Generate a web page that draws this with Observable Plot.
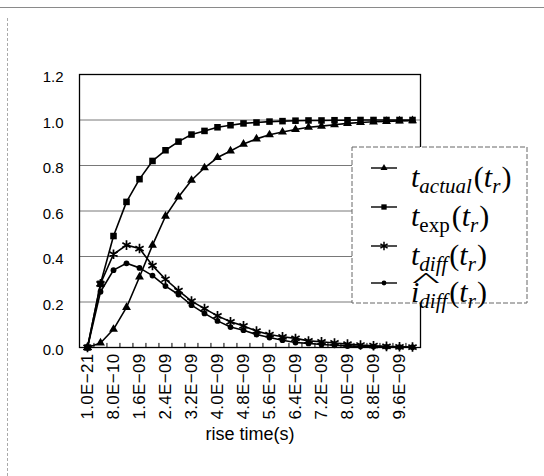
<!DOCTYPE html>
<html>
<head>
<meta charset="utf-8">
<script src="https://cdn.jsdelivr.net/npm/d3@7"></script>
<script src="https://cdn.jsdelivr.net/npm/@observablehq/plot@0.6"></script>
<style>
  html, body { margin: 0; padding: 0; background: #fff; }
  #wrap { position: relative; width: 544px; height: 476px; overflow: hidden; background: #fff; }
  #wrap > svg { position: absolute; left: 0; top: 0; }
  .topline { position: absolute; left: 0; top: 7px; width: 544px; height: 0; border-top: 1px solid #8a8a8a; }
  .leftline { position: absolute; left: 7px; top: 18px; width: 0; height: 458px; border-left: 1px dashed #aaa; }
</style>
</head>
<body>
<div id="wrap">
  <div class="topline"></div>
  <div class="leftline"></div>
</div>
<script>
// ---- data ----
const riseTime = [1e-21, 4e-10, 8e-10, 1.2e-9, 1.6e-9, 2.0e-9, 2.4e-9, 2.8e-9, 3.2e-9, 3.6e-9,
  4.0e-9, 4.4e-9, 4.8e-9, 5.2e-9, 5.6e-9, 6.0e-9, 6.4e-9, 6.8e-9, 7.2e-9, 7.6e-9,
  8.0e-9, 8.4e-9, 8.8e-9, 9.2e-9, 9.6e-9, 1.0e-8];
const tickValues = [1e-21, 8e-10, 1.6e-9, 2.4e-9, 3.2e-9, 4.0e-9, 4.8e-9, 5.6e-9, 6.4e-9, 7.2e-9, 8.0e-9, 8.8e-9, 9.6e-9];
const tickLabels = ["1.0E-21", "8.0E-10", "1.6E-09", "2.4E-09", "3.2E-09", "4.0E-09", "4.8E-09",
  "5.6E-09", "6.4E-09", "7.2E-09", "8.0E-09", "8.8E-09", "9.6E-09"];
const yTicks = [0, 0.2, 0.4, 0.6, 0.8, 1.0, 1.2];
const gridValues = [0.2, 0.4, 0.6, 0.8, 1.0];

const tActual = [0, 0.02, 0.08, 0.176, 0.31, 0.45, 0.577, 0.662, 0.735, 0.79, 0.835, 0.864, 0.894,
  0.917, 0.935, 0.947, 0.958, 0.968, 0.973, 0.979, 0.985, 0.989, 0.992, 0.994, 0.996, 0.997];
const tExp = [0, 0.28, 0.49, 0.64, 0.74, 0.82, 0.867, 0.905, 0.936, 0.952, 0.968, 0.977, 0.985,
  0.989, 0.993, 0.995, 0.997, 0.998, 0.998, 0.999, 0.999, 1.0, 1.0, 1.0, 1.0, 1.0];
const tDiff = [0, 0.28, 0.41, 0.45, 0.435, 0.36, 0.30, 0.25, 0.204, 0.171, 0.139, 0.113, 0.095,
  0.072, 0.057, 0.047, 0.04, 0.029, 0.025, 0.02, 0.015, 0.011, 0.008, 0.005, 0.003, 0.002];
const iDiffHat = [0, 0.245, 0.34, 0.37, 0.35, 0.316, 0.27, 0.233, 0.186, 0.15, 0.117, 0.09, 0.076,
  0.057, 0.044, 0.032, 0.022, 0.018, 0.013, 0.01, 0.007, 0.005, 0.004, 0.003, 0.002, 0.001];

const seriesNames = ["t_actual", "t_exp", "t_diff", "i_diff_hat"];
const seriesValues = [tActual, tExp, tDiff, iDiffHat];
const seriesSymbols = ["triangle", "square", "asterisk", "circle"];
const seriesR = [3.3, 3.7, 4.5, 2.9];

// ---- build table ----
const rows = [];
seriesNames.forEach((name, s) => {
  riseTime.forEach((t, i) => rows.push({series: name, t, v: seriesValues[s][i]}));
});
const labelOf = new Map(tickValues.map((v, i) => [v, tickLabels[i]]));

const W = 544, H = 476, ML = 79, MR = 124, MT = 74, MB = 129;
const step = (W - ML - MR) / riseTime.length;

const marks = [
  Plot.ruleY(gridValues, {stroke: "#555", strokeWidth: 0.8}),
  // category-boundary tick marks (Excel style, pointing inward)
  Plot.ruleX(riseTime.slice(1), {x: d => d, y1: 0, y2: 0.018, dx: -step / 2, stroke: "#000", strokeWidth: 1}),
  Plot.frame({stroke: "#000", strokeWidth: 1.3}),
  Plot.axisY({ticks: yTicks, tickSize: 0, tickPadding: 16, dy: 3, tickFormat: d => d.toFixed(1), label: null, fontSize: 15}),
  Plot.axisX({ticks: riseTime, tickSize: 0, tickPadding: 6, tickRotate: -90, label: null, fontSize: 17,
    tickFormat: d => (labelOf.has(d) ? labelOf.get(d).replace("-", "\u2212") : "")}),
  Plot.text(["rise time(s)"], {text: d => d, frameAnchor: "bottom", dy: 92, fontSize: 18})
];
seriesNames.forEach((name, s) => {
  const data = rows.filter(r => r.series === name);
  marks.push(Plot.line(data, {x: "t", y: "v", stroke: "#000", strokeWidth: 1.6}));
  if (seriesSymbols[s] === "asterisk") {
    marks.push(Plot.dot(data, {x: "t", y: "v", symbol: "asterisk", r: seriesR[s], stroke: "#000", strokeWidth: 1.7}));
  } else {
    marks.push(Plot.dot(data, {x: "t", y: "v", symbol: seriesSymbols[s], r: seriesR[s], fill: "#000", stroke: "none"}));
  }
});

const chart = Plot.plot({
  width: W, height: H,
  marginLeft: ML, marginRight: MR, marginTop: MT, marginBottom: MB,
  style: {fontFamily: "'Liberation Sans', Arial, sans-serif", fontSize: "15px", background: "transparent", color: "#000"},
  x: {type: "point", domain: riseTime, padding: 0.5},
  y: {domain: [0, 1.2]},
  marks
});
d3.select(chart).selectAll('g[aria-label="x-axis tick label"] text').attr("letter-spacing", 0.3);
document.getElementById("wrap").appendChild(chart);

// ---- legend overlay ----
const lg = d3.select("#wrap").append("svg")
  .attr("width", W).attr("height", H)
  .style("position", "absolute").style("left", 0).style("top", 0);
lg.append("rect").attr("x", 352).attr("y", 147).attr("width", 175).attr("height", 156)
  .attr("fill", "#fff").attr("stroke", "#666").attr("stroke-width", 1).attr("stroke-dasharray", "5,2");
const legendRows = [
  {sym: "triangle", r: 2.6, y: 168, base: 187, sub: "actual", subRoman: false},
  {sym: "square", r: 3.0, y: 207, base: 226, sub: "exp", subRoman: true},
  {sym: "asterisk", r: 3.9, y: 246, base: 265, sub: "diff", subRoman: false},
  {sym: "circle", r: 2.4, y: 283, base: 302, sub: "diff", subRoman: false}
];
const symMap = {triangle: d3.symbolTriangle, square: d3.symbolSquare, asterisk: d3.symbolAsterisk, circle: d3.symbolCircle};
legendRows.forEach((row, k) => {
  lg.append("line").attr("x1", 371).attr("x2", 397).attr("y1", row.y).attr("y2", row.y)
    .attr("stroke", "#000").attr("stroke-width", 1.4);
  const p = lg.append("path").attr("transform", `translate(384,${row.y})`)
    .attr("d", d3.symbol(symMap[row.sym], row.r * row.r * Math.PI)());
  if (row.sym === "asterisk") p.attr("fill", "none").attr("stroke", "#000").attr("stroke-width", 1.5);
  else p.attr("fill", "#000");
  const t = lg.append("text").attr("x", 411).attr("y", row.base)
    .attr("font-family", "'Liberation Serif', 'DejaVu Serif', serif").attr("font-size", 30).attr("fill", "#000");
  t.append("tspan").attr("font-style", "italic").text(k === 3 ? "i" : "t");
  t.append("tspan").attr("font-size", 21).attr("dy", 6).attr("font-style", row.subRoman ? "normal" : "italic").text(row.sub);
  t.append("tspan").attr("dy", -6).attr("dx", 2).attr("font-style", "normal").text("(");
  t.append("tspan").attr("font-style", "italic").text("t");
  t.append("tspan").attr("font-size", 21).attr("dy", 6).attr("font-style", "italic").text("r");
  t.append("tspan").attr("dy", -6).attr("dx", 1).attr("font-style", "normal").text(")");
  if (k === 3) {
    lg.append("text").attr("x", 0).attr("y", 0)
      .attr("transform", `translate(426,${row.base - 15}) scale(2.7,1)`)
      .attr("text-anchor", "middle").attr("font-family", "'Liberation Serif', serif")
      .attr("font-size", 22).text("^");
  }
});
</script>
</body>
</html>
